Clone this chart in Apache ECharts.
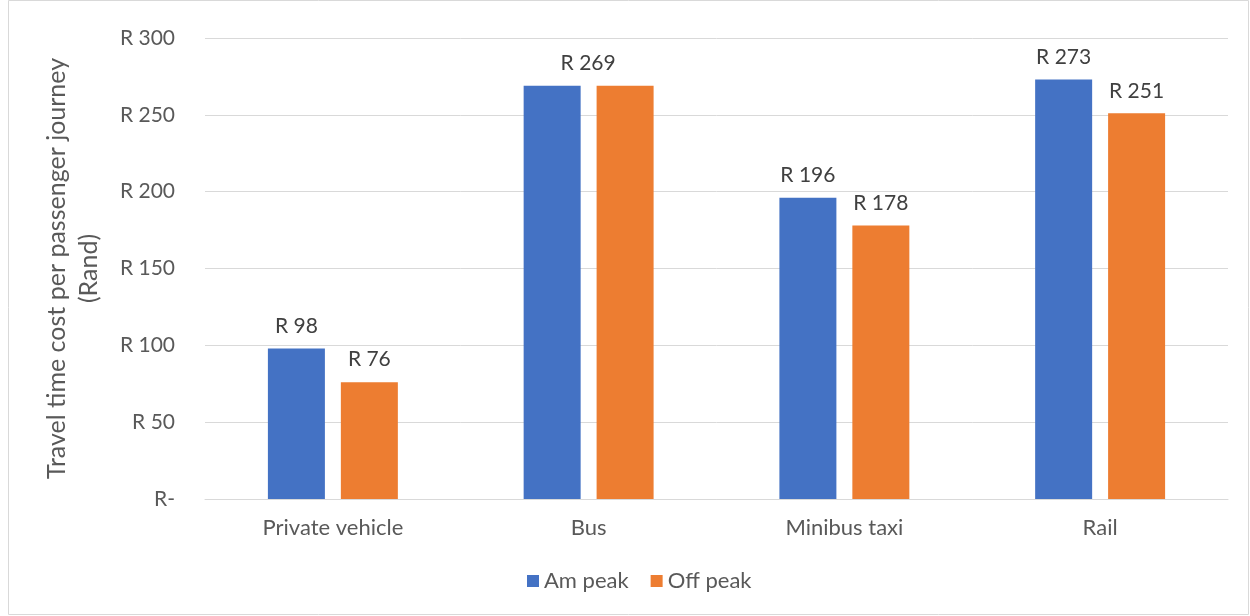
<!DOCTYPE html>
<html>
<head>
<meta charset="utf-8">
<script src="https://cdn.jsdelivr.net/npm/echarts@6/dist/echarts.min.js"></script>
<style>
  html, body { margin: 0; padding: 0; background: #fff; }
  #chart { width: 1250px; height: 616px; }
</style>
</head>
<body>
<div id="chart"></div>
<script>
// Travel time cost per passenger journey by mode
const categories = ['Private vehicle', 'Bus', 'Minibus taxi', 'Rail'];
const amPeak = [98, 269, 196, 273];
const offPeak = [76, 269, 178, 251];
const yTicks = [0, 50, 100, 150, 200, 250, 300];

const FONT = 'Lato, "Open Sans", sans-serif';

function randLabel(v) {
  return v === 0 ? 'R-' : 'R ' + v;
}

// Bus shares one value label, centred over both bars
function amData() {
  return amPeak.map((v, i) => {
    if (categories[i] === 'Bus') {
      return { value: v, label: { offset: [36, 0] } };
    }
    return v;
  });
}
function offData() {
  return offPeak.map((v, i) => {
    if (categories[i] === 'Bus') {
      return { value: v, label: { show: false } };
    }
    return v;
  });
}

const labelStyle = {
  show: true,
  position: 'top',
  distance: 12,
  color: '#404040',
  fontFamily: FONT,
  fontSize: 21,
  formatter: p => randLabel(p.value)
};

const chart = echarts.init(document.getElementById('chart'), null, { renderer: 'canvas' });
chart.setOption({
  animation: false,
  backgroundColor: '#ffffff',
  textStyle: { fontFamily: FONT },
  graphic: [{
    type: 'rect',
    shape: { x: 8.5, y: 0.5, width: 1240, height: 614 },
    style: { fill: 'none', stroke: '#d9d9d9', lineWidth: 1 },
    silent: true
  }],
  grid: { left: 205, right: 22, top: 38, bottom: 117 },
  legend: {
    bottom: 19,
    left: 522,
    itemWidth: 12,
    itemHeight: 12,
    itemGap: 22,
    icon: 'rect',
    textStyle: { color: '#595959', fontSize: 22, fontFamily: FONT },
    data: ['Am peak', 'Off peak']
  },
  xAxis: {
    type: 'category',
    data: categories,
    axisLine: { lineStyle: { color: '#d9d9d9', width: 1 } },
    axisTick: { show: false },
    axisLabel: { color: '#595959', fontSize: 22, fontFamily: FONT, margin: 18 }
  },
  yAxis: {
    type: 'value',
    min: yTicks[0],
    max: yTicks[yTicks.length - 1],
    interval: 50,
    name: 'Travel time cost per passenger journey\n(Rand)',
    nameLocation: 'middle',
    nameGap: 100,
    nameRotate: 90,
    nameTextStyle: { color: '#595959', fontSize: 25, fontFamily: FONT, lineHeight: 32, align: 'center' },
    axisLine: { show: false },
    axisTick: { show: false },
    splitLine: { lineStyle: { color: '#d9d9d9', width: 1 } },
    axisLabel: {
      color: '#595959',
      fontSize: 21,
      fontFamily: FONT,
      margin: 30,
      formatter: v => randLabel(v)
    }
  },
  series: [
    {
      name: 'Am peak',
      type: 'bar',
      data: amData(),
      barWidth: 57,
      barGap: '28%',
      itemStyle: { color: '#4472c4' },
      label: labelStyle
    },
    {
      name: 'Off peak',
      type: 'bar',
      data: offData(),
      barWidth: 57,
      itemStyle: { color: '#ed7d31' },
      label: labelStyle
    }
  ]
});
</script>
</body>
</html>
